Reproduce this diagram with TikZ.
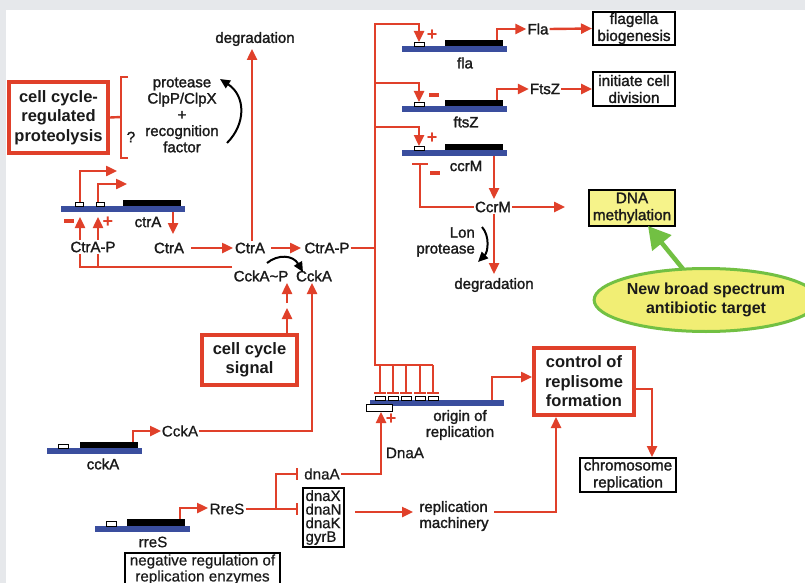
\documentclass[tikz,border=0pt]{standalone}
\usepackage{fontspec}
\setmainfont{Liberation Sans}
\newfontfamily\medf[FakeBold=1.6]{Liberation Sans}
\newfontfamily\regf[FakeBold=0.6]{Liberation Sans}
\usetikzlibrary{arrows.meta,shapes.geometric}
\definecolor{rd}{HTML}{E0402A}
\definecolor{bl}{HTML}{3A4E9E}
\definecolor{bgc}{HTML}{E6E8EB}
\definecolor{yl}{HTML}{F6F38A}
\definecolor{gr}{HTML}{72C043}
\definecolor{elc}{HTML}{F1EE74}
\definecolor{tx}{HTML}{1A1A1A}
\begin{document}
\begin{tikzpicture}[x=1pt,y=-1pt,
 rl/.style={draw=rd,line width=2.4pt},
 ra/.style={rl,-{Triangle[length=11pt,width=10pt]}},
 ri/.style={rl,-{Bar[width=12pt]}},
 lm/.style={font=\medf\fontsize{15}{16}\selectfont,text=tx,inner sep=1pt,align=center},
 lr/.style={font=\regf\fontsize{15.2}{16}\selectfont,text=tx,inner sep=1pt,align=center},
 bx/.style={font=\medf\fontsize{15.3}{17}\selectfont,text=tx,draw=black,line width=2pt,inner sep=0pt,align=center},
 bb/.style={draw=rd,line width=4pt,fill=white,text=tx,font=\bfseries\fontsize{16.5}{19.5}\selectfont,align=center,inner sep=0pt},
 sg/.style={text=rd,font=\bfseries\fontsize{18}{18}\selectfont,inner sep=0pt},
 gbar/.style={fill=bl},
 gbody/.style={fill=black},
 prom/.style={draw=black,line width=0.8pt,fill=white},
 karr/.style={draw=black,line width=2pt,-{Triangle[length=10pt,width=9pt]}}
]
\newcommand{\rminus}{\textcolor{rd}{\rule{10pt}{3.5pt}}}
\useasboundingbox (0,0) rectangle (805,583);
\fill[bgc] (0,0) rectangle (805,583);
\fill[white] (6,10) rectangle (805,583);

% ---------- proteolysis ----------
\node[bb,minimum width=99pt,minimum height=71pt] (prot) at (58.5,117.5) {cell cycle-\\regulated\\proteolysis};
\coordinate (brk) at (121,117);
\draw[rl] (prot.east) -- (brk);
\draw[rl] (128,77) -- (121,77) -- (121,158) -- (128,158);
\node[lm] (q) at (131,137) {?};
\node[lm,font=\medf\fontsize{15}{16.25}\selectfont] (pf) at (182,115) {protease\\ClpP/ClpX\\+\\recognition\\factor};
\coordinate (pcs) at (227,143);
\coordinate (pce) at (220,79);
\draw[karr] (pcs) .. controls (246,124) and (246,96) .. (pce);

% ---------- ctrA gene ----------
\fill[gbar] (61,206) rectangle (185,212);
\fill[gbody] (123,200) rectangle (181,206);
\draw[prom] (75,202) rectangle (83,206);
\draw[prom] (96,202) rectangle (104,206);
\coordinate (cp1) at (80,202);
\coordinate (cp1t) at (117,171);
\coordinate (cp2) at (98,202);
\coordinate (cp2t) at (127,184);
\draw[ra] (cp1) |- (cp1t);
\draw[ra] (cp2) |- (cp2t);
\node[lm] (ctrag) at (148,222) {ctrA};
\node[lm] (ctram) at (169,248) {CtrA};
\coordinate (ctrgo) at (173,212);
\coordinate (ctrgt) at (173,234);
\draw[ra] (ctrgo) -- (ctrgt);
\node[inner sep=0pt] (m1) at (69,221) {\rminus};
\node[sg] (p1) at (108,222) {+};

% feedback from CckA~P
\coordinate (fbk) at (232,267);
\coordinate (fb1) at (80,217);
\coordinate (fb2) at (98,217);
\draw[ra] (fbk) -| (fb1);
\draw[ra] (98,267) -- (fb2);
\node[lm,fill=white,inner sep=1.5pt] (ctrapl) at (93,247) {CtrA-P};

% ---------- center ----------
\node[lm] (deg1) at (255,39) {degradation};
\node[lm] (ctrac) at (250,248) {CtrA};
\node[lm] (ctrap) at (327,248) {CtrA-P};
\node[lm] (cckap) at (261,276) {CckA\char`~P};
\node[lm] (cckac) at (314,276) {CckA};
\coordinate (degt) at (252,49);
\draw[ra] (ctrac.north -| degt) -- (degt);
\coordinate (mt1) at (233,248);
\draw[ra] (ctram.east) ++(6,0) -- (mt1);
\coordinate (mt2) at (301,248);
\draw[ra] (ctrac.east) ++(5,0) -- (mt2);
\coordinate (kcs) at (267,263);
\coordinate (kce) at (303,272);
\draw[karr] (kcs) .. controls (278,254) and (293,255) .. (kce);

% cell cycle signal
\node[bb,minimum width=95pt,minimum height=50pt] (ccs) at (249.5,360) {cell cycle\\signal};
\coordinate (s1a) at (287,308);
\coordinate (s1b) at (287,303);
\coordinate (s1t) at (287,283);
\draw[ra] (ccs.north -| s1a) -- (s1a);
\draw[ra] (s1b) -- (s1t);

% ---------- cckA gene ----------
\fill[gbar] (47,448) rectangle (142,454);
\fill[gbody] (80,442) rectangle (138,448);
\draw[prom] (58,444) rectangle (68,448);
\coordinate (kp) at (133,442);
\coordinate (kpt) at (161,431);
\draw[ra] (kp) |- (kpt);
\node[lm] (cckag) at (103,464) {cckA};
\node[lr] (cckal) at (180,431) {CckA};
\coordinate (ckt) at (312,283);
\draw[ra] (cckal.east) -| (ckt);

% ---------- trunk and targets ----------
\coordinate (tr) at (375,248);
\draw[rl] (ctrap.east) -- (tr);
\coordinate (flat) at (419,42);
\draw[ra] (433,365) -- (375,365) -- (375,24) -| (flat);
\coordinate (ftzt) at (419,102);
\draw[ra] (375,83) -| (ftzt);
\coordinate (ccrt) at (419,146);
\draw[ra] (375,127) -| (ccrt);

% fla
\fill[gbar] (402,46) rectangle (507,52);
\fill[gbody] (445,40) rectangle (503,46);
\draw[prom] (414,42) rectangle (424,46);
\node[sg] (p2) at (432,35) {+};
\node[lm] (flag) at (465,63) {fla};
\node[lm] (flap) at (538,29) {Fla};
\coordinate (fp) at (497,40);
\draw[ra] (fp) |- (flap.west);
\node[bx,minimum width=82pt,minimum height=33pt] (flab) at (634,28.5) {flagella\\biogenesis};
\draw[ra] (flap.east) -- (flab.west);

% ftsZ
\fill[gbar] (402,106) rectangle (507,112);
\fill[gbody] (445,100) rectangle (503,106);
\draw[prom] (414,102) rectangle (424,106);
\node[inner sep=0pt] (m2) at (434,95) {\rminus};
\node[lm] (ftsg) at (466,122) {ftsZ};
\node[lm] (ftsp) at (545,89) {FtsZ};
\coordinate (zp) at (497,100);
\draw[ra] (zp) |- (ftsp.west);
\node[bx,minimum width=82pt,minimum height=34pt] (divb) at (634,89) {initiate cell\\division};
\draw[ra] (ftsp.east) -- (divb.west);

% ccrM
\fill[gbar] (402,150) rectangle (507,156);
\fill[gbody] (445,144) rectangle (503,150);
\draw[prom] (414,146) rectangle (424,150);
\node[sg] (p3) at (432,138) {+};
\node[lm] (ccrg) at (466,166) {ccrM};
\node[lm] (ccrp) at (493,207) {CcrM};
\coordinate (cgo) at (494,156);
\coordinate (cgt) at (494,199);
\draw[ra] (cgo) -- (cgt);
\coordinate (cit) at (420,163);
\draw[rl,-{Bar[width=16pt]}] (ccrp.west) -| (cit);
\node[inner sep=0pt] (m3) at (435,173) {\rminus};
\node[bx,fill=yl,minimum width=86pt,minimum height=36pt] (dnam) at (632,208) {DNA\\methylation};
\coordinate (mtt) at (565,207);
\draw[ra] (ccrp.east) -- (mtt);
\node[lm] (deg2) at (494,285) {degradation};
\coordinate (dgt) at (494,274);
\draw[ra] (ccrp.south -| dgt) -- (dgt);
\node[lm,align=right,anchor=east] (lon) at (476,242) {Lon\\protease};
\coordinate (lcs) at (482,227);
\coordinate (lce) at (478,262);
\draw[karr] (lcs) .. controls (490,236) and (488,252) .. (lce);

% antibiotic target
\node[ellipse,draw=gr,line width=3pt,fill=elc,minimum width=196pt,minimum height=63pt,inner sep=0pt,align=center,text=tx,font=\bfseries\fontsize{16}{18.5}\selectfont] (ell) at (706,300) {New broad spectrum\\antibiotic target};
\coordinate (gt) at (648,226);
\coordinate (gs) at (683,269);
\draw[gr,line width=4.5pt,-{Triangle[length=22pt,width=24pt]}] (gs) -- (gt);

% ---------- origin of replication ----------
\fill[gbar] (370,400) rectangle (504,406);
\draw[prom] (366,404) rectangle (392,411);
\foreach \i/\xx in {1/380,2/393,3/406,4/420,5/433}{
  \draw[prom] (\xx-5,396) rectangle (\xx+5,400);
  \draw[ri] (\xx,365) -- (\xx,394);
}
\node[lm] (orig) at (460,425) {origin of\\replication};
\node[sg] (p4) at (391,419) {+};

\node[bb,minimum width=100pt,minimum height=67pt] (repl) at (584,381.5) {control of\\replisome\\formation};
\coordinate (oo) at (492,400);
\coordinate (oc) at (492,377);
\draw[ra] (oo) -- (oc) -- (repl.west |- oc);
\node[bx,minimum width=96pt,minimum height=34pt] (chrom) at (628,475) {chromosome\\replication};
\coordinate (rc) at (652,389);
\draw[ra] (repl.east |- rc) -| (chrom.north -| rc);

% ---------- rreS ----------
\fill[gbar] (95,526) rectangle (190,532);
\fill[gbody] (127,519) rectangle (185,526);
\draw[prom] (106,521) rectangle (116,526);
\coordinate (rp) at (180,519);
\coordinate (rpt) at (208,508);
\draw[ra] (rp) |- (rpt);
\node[lr] (rresg) at (153,542) {rreS};
\node[lr] (rres) at (227,509) {RreS};
\draw[black,line width=2pt] (125,553) rectangle (280,610);
\node[lr] (neg) at (202.5,569.5) {negative regulation of\\replication enzymes};

\node[lr] (dnaa) at (322,474) {dnaA};
\node[draw=black,line width=2pt,minimum width=41pt,minimum height=59pt,inner sep=0pt,align=left,text=tx,font=\regf\fontsize{15}{13.6}\selectfont] (dnax) at (323.5,517.5) {dnaX\\dnaN\\dnaK\\gyrB};
\coordinate (rsp) at (276,509);
\coordinate (ia) at (298,474);
\coordinate (ib) at (298,509);
\draw[rl] (rres.east) -- (rsp);
\draw[ri] (rsp) -- (ib);
\draw[ri] (rsp) |- (ia);

\node[lr] (dnaap) at (405,453) {DnaA};
\coordinate (dt) at (381,412);
\draw[ra] (dnaa.east) -| (dt);

\node[lm,align=left] (mach) at (454,516) {replication\\machinery};
\coordinate (mtip) at (413,512);
\draw[ra] (355,512) -- (mtip);
\coordinate (mr) at (556,512);
\draw[ra] (494,512) -- (mr) -- (mr |- repl.south);
\end{tikzpicture}
\end{document}
